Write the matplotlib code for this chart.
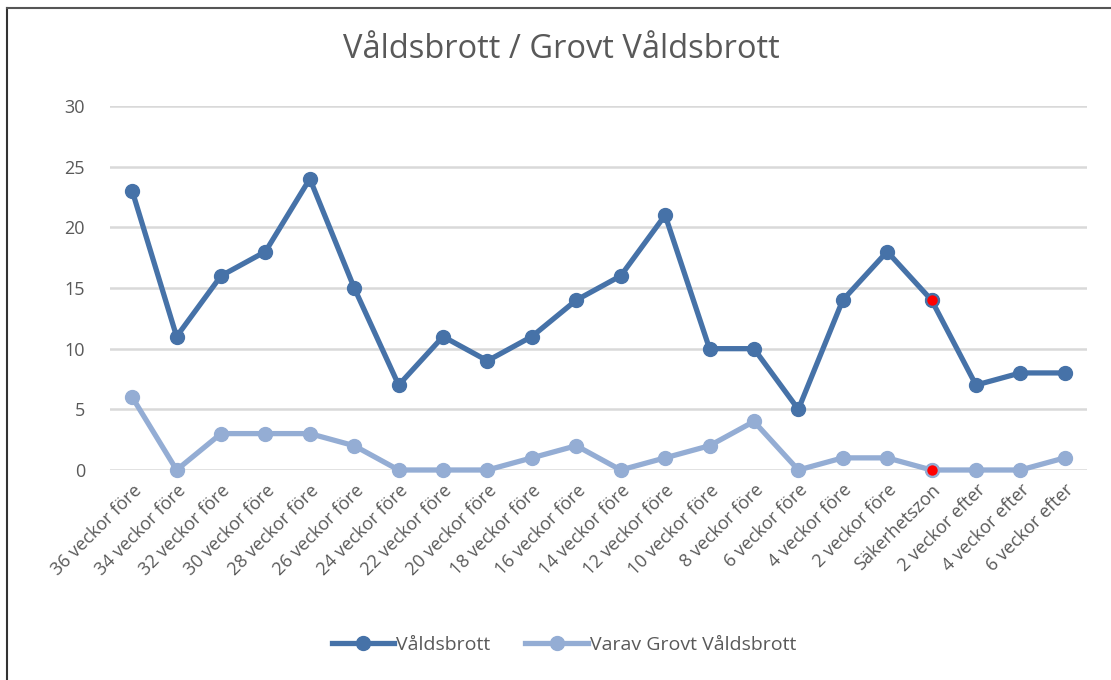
import numpy as np
import matplotlib.pyplot as plt
from matplotlib.lines import Line2D

plt.rcParams['font.family'] = ['Open Sans', 'DejaVu Sans']

categories = ["36 veckor före", "34 veckor före", "32 veckor före", "30 veckor före",
              "28 veckor före", "26 veckor före", "24 veckor före", "22 veckor före",
              "20 veckor före", "18 veckor före", "16 veckor före", "14 veckor före",
              "12 veckor före", "10 veckor före", "8 veckor före", "6 veckor före",
              "4 veckor före", "2 veckor före", "Säkerhetszon", "2 veckor efter",
              "4 veckor efter", "6 veckor efter"]
valdsbrott = [23, 11, 16, 18, 24, 15, 7, 11, 9, 11, 14, 16, 21, 10, 10, 5, 14, 18, 14, 7, 8, 8]
grovt = [6, 0, 3, 3, 3, 2, 0, 0, 0, 1, 2, 0, 1, 2, 4, 0, 1, 1, 0, 0, 0, 1]
highlight = "Säkerhetszon"

DARK = "#4672A8"
LIGHT = "#94ADD4"
TEXT = "#595959"

fig = plt.figure(figsize=(11.11, 6.8), dpi=100)
ax = fig.add_axes([110 / 1111, 1 - 470 / 680, 977 / 1111, 364 / 680])

x = np.arange(len(categories))
ax.plot(x, valdsbrott, color=DARK, lw=3.8, marker="o", ms=10, clip_on=False,
        solid_joinstyle="round", label="Våldsbrott", zorder=3)
ax.plot(x, grovt, color=LIGHT, lw=3.8, marker="o", ms=10, clip_on=False,
        solid_joinstyle="round", label="Varav Grovt Våldsbrott", zorder=3)

hi = categories.index(highlight)
ax.plot(hi, valdsbrott[hi], "o", color="red", ms=9, mec=DARK, mew=1.5, zorder=4, clip_on=False)
ax.plot(hi, grovt[hi], "o", color="red", ms=9, mec=LIGHT, mew=1.5, zorder=4, clip_on=False)

ax.set_xlim(-0.5, len(categories) - 0.5)
ax.set_ylim(0, 30)
ax.set_yticks(range(0, 31, 5))
ax.set_xticks(x)
ax.set_xticklabels(categories, rotation=45, ha="right", rotation_mode="anchor")
ax.tick_params(axis="both", length=0, colors=TEXT, labelsize=13)
ax.tick_params(axis="y", pad=18)
ax.tick_params(axis="x", pad=8)
ax.grid(axis="y", color="#D9D9D9", lw=1.8)
ax.set_axisbelow(True)
for s in ax.spines.values():
    s.set_visible(False)

fig.text(0.505, 1 - 50 / 680, "Våldsbrott / Grovt Våldsbrott", ha="center", va="center",
         fontsize=23.5, color=TEXT)

ax.legend(loc="center", bbox_to_anchor=(454 / 977, (470 - 645) / 364), ncol=2, frameon=False,
          fontsize=14, labelcolor=TEXT, handlelength=3.2, handletextpad=0.1, columnspacing=1.8,
          markerscale=1.0, bbox_transform=ax.transAxes)

# frame of the chart area
fig.add_artist(Line2D([7 / 1111, 7 / 1111], [0, 1 - 8 / 680], color="#333333", lw=1.5,
                      transform=fig.transFigure))
fig.add_artist(Line2D([7 / 1111, 1], [1 - 8 / 680, 1 - 8 / 680], color="#555555", lw=1.5,
                      transform=fig.transFigure))

fig.savefig("out.png", dpi=100)
